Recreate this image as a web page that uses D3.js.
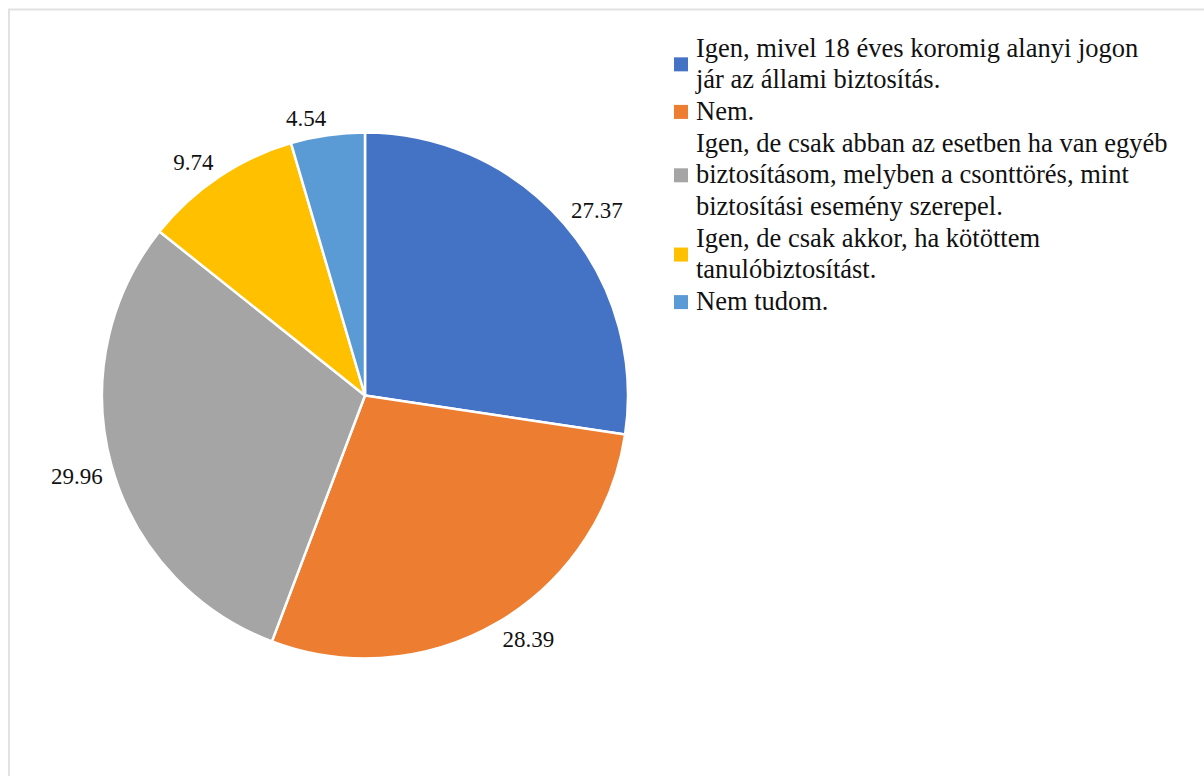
<!DOCTYPE html>
<html>
<head>
<meta charset="utf-8">
<script src="https://cdn.jsdelivr.net/npm/d3@7"></script>
<style>
  html, body { margin: 0; padding: 0; background: #fff; }
  svg { display: block; }
</style>
</head>
<body>
<svg id="chart" width="1204" height="776"></svg>
<script>
const categories = [
  "Igen, mivel 18 éves koromig alanyi jogon jár az állami biztosítás.",
  "Nem.",
  "Igen, de csak abban az esetben ha van egyéb biztosításom, melyben a csonttörés, mint biztosítási esemény szerepel.",
  "Igen, de csak akkor, ha kötöttem tanulóbiztosítást.",
  "Nem tudom."
];
const legendLines = [
  ["Igen, mivel 18 éves koromig alanyi jogon", "jár az állami biztosítás."],
  ["Nem."],
  ["Igen, de csak abban az esetben ha van egyéb", "biztosításom, melyben a csonttörés, mint", "biztosítási esemény szerepel."],
  ["Igen, de csak akkor, ha kötöttem", "tanulóbiztosítást."],
  ["Nem tudom."]
];
const values = [27.37, 28.39, 29.96, 9.74, 4.54];
const colors = ["#4472C4", "#ED7D31", "#A5A5A5", "#FFC000", "#5B9BD5"];

const FONT = "'Liberation Serif', Tinos, 'Times New Roman', 'DejaVu Serif', serif";
const svg = d3.select("#chart");

// frame
svg.append("rect").attr("x", 9).attr("y", 9.5).attr("width", 1204).attr("height", 800)
  .attr("fill", "none").attr("stroke", "#e2e2e2").attr("stroke-width", 2);

const cx = 365, cy = 395.5, r = 263;
const g = svg.append("g").attr("transform", `translate(${cx},${cy})`);

const pie = d3.pie().sort(null).value(d => d)(values);
const arc = d3.arc().innerRadius(0).outerRadius(r);

g.selectAll("path.slice").data(pie).join("path")
  .attr("class", "slice")
  .attr("d", arc)
  .attr("fill", (d, i) => colors[i])
  .attr("stroke", "#fff")
  .attr("stroke-width", 2.5)
  .attr("stroke-linejoin", "round");

// outside-end labels: the box corner facing the pie sits just outside the rim
const fs = 23;
const gap = 9;
const digitH = fs * 0.72;
g.selectAll("text.lbl").data(pie).join("text")
  .attr("class", "lbl")
  .attr("font-family", FONT)
  .attr("font-size", fs)
  .attr("fill", "#111")
  .text(d => d.data.toFixed(2))
  .each(function(d) {
    const a = (d.startAngle + d.endAngle) / 2;
    const px = Math.sin(a) * (r + gap), py = -Math.cos(a) * (r + gap);
    const sel = d3.select(this);
    sel.attr("text-anchor", px >= 0 ? "start" : "end").attr("x", px);
    sel.attr("y", py < 0 ? py : py + digitH);
  });

// legend
const lx = 696, firstBase = 56.5, lineH = 31.7;
const leg = svg.append("g");
let line = 0;
legendLines.forEach((lines, i) => {
  const start = line;
  lines.forEach((t, j) => {
    leg.append("text").attr("x", lx).attr("y", firstBase + (start + j) * lineH)
      .attr("font-family", FONT).attr("font-size", 26.5).attr("fill", "#111").text(t);
  });
  const meanBase = firstBase + (start + (lines.length - 1) / 2) * lineH;
  leg.append("rect").attr("x", 674).attr("y", meanBase - 8 - 7)
    .attr("width", 14).attr("height", 14).attr("fill", colors[i]);
  line += lines.length;
});
</script>
</body>
</html>
